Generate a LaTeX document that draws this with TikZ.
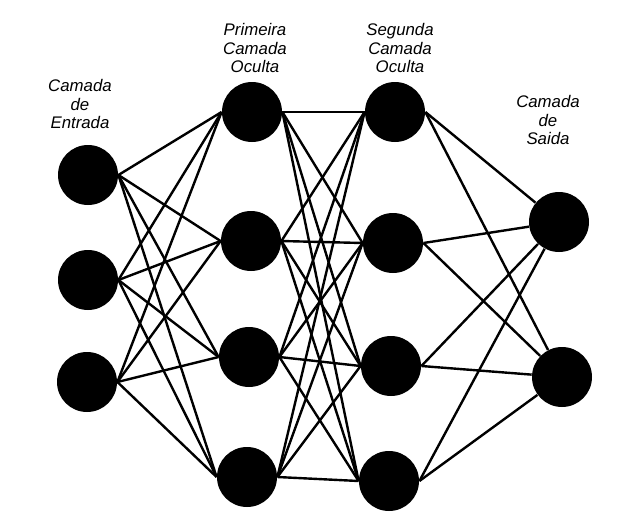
\documentclass[tikz,border=0pt]{standalone}
\usepackage{fontspec}
\setmainfont{Liberation Sans}

\begin{document}
\begin{tikzpicture}[x=0.5pt,y=-0.5pt,
  neuron/.style={circle,fill=black,inner sep=0pt,minimum size=30pt},
  synapse/.style={line width=1.2pt,black},
  layername/.style={align=center,font=\itshape\fontsize{8.4}{9.2}\selectfont}]
\useasboundingbox (0,0) rectangle (623,516);

% neurons
\node[neuron] (I1) at (88,175) {};
\node[neuron] (I2) at (88,280) {};
\node[neuron] (I3) at (87,382) {};

\node[neuron] (H1) at (252,112) {};
\node[neuron] (H2) at (251,241) {};
\node[neuron] (H3) at (249,357) {};
\node[neuron] (H4) at (247,477) {};

\node[neuron] (K1) at (395,112) {};
\node[neuron] (K2) at (393,243) {};
\node[neuron] (K3) at (391,366) {};
\node[neuron] (K4) at (389,481) {};

\node[neuron] (O1) at (559,222) {};
\node[neuron] (O2) at (562,377) {};

% connections
\foreach \i in {1,2,3}
  \foreach \j in {1,2,3,4}
    \draw[synapse] (I\i.east) -- (H\j.west);
\foreach \i in {1,2,3,4}
  \foreach \j in {1,2,3,4}
    \draw[synapse] (H\i.east) -- (K\j.west);
\foreach \i in {1,2,3,4}
  \foreach \j in {1,2}
    \draw[synapse] (K\i.east) -- (O\j);

% labels
\node[layername] (inlabel) at (80,104) {Camada\\de\\Entrada};
\node[layername] (h1label) at (255,48) {Primeira\\Camada\\Oculta};
\node[layername] (h2label) at (400,48) {Segunda\\Camada\\Oculta};
\node[layername] (outlabel) at (548,120) {Camada\\de\\Saida};

\end{tikzpicture}
\end{document}
